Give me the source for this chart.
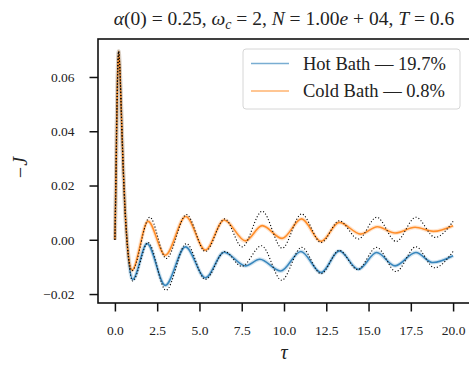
<!DOCTYPE html>
<html>
<head>
<meta charset="utf-8">
<script src="https://cdn.jsdelivr.net/npm/d3@7"></script>
<style>
  body { margin: 0; background: #fff; }
  text { font-family: 'Liberation Serif', 'DejaVu Serif', serif; fill: #222; }
</style>
</head>
<body>
<div id="chart"></div>
<script>
// values (tau, -J)
const hotTau = [0, 0.05, 0.1, 0.15, 0.22, 0.3, 0.4, 0.5, 0.6, 0.7, 0.8, 1.05, 1.9, 2.98, 4.17, 5.35, 6.46, 7.72, 8.57, 9.8, 11.0, 12.19, 13.27, 14.4, 15.48, 16.57, 17.8, 18.8, 20.0]
const hotJ = [0, 0.018, 0.04, 0.058, 0.0695, 0.062, 0.043, 0.025, 0.011, 0.001, -0.0065, -0.0146, -0.0014, -0.0168, -0.0026, -0.014, -0.0046, -0.0096, -0.0072, -0.0115, -0.0043, -0.0121, -0.0041, -0.0109, -0.0047, -0.0096, -0.0047, -0.0084, -0.0059]

const coldTau = [0, 0.05, 0.1, 0.15, 0.22, 0.3, 0.4, 0.5, 0.6, 0.7, 0.8, 1.01, 1.96, 2.98, 4.19, 5.35, 6.46, 7.72, 8.71, 9.89, 11.04, 12.19, 13.27, 14.54, 15.52, 16.57, 17.75, 18.84, 20.0]
const coldJ = [0, 0.018, 0.04, 0.058, 0.0695, 0.062, 0.043, 0.025, 0.011, 0.001, -0.006, -0.0112, 0.0068, -0.0057, 0.0086, -0.0038, 0.0073, -0.0004, 0.0052, 0.0005, 0.0077, -0.0006, 0.0064, 0.0021, 0.0048, 0.0025, 0.0046, 0.0031, 0.0052]

// dotted reference curves
const hotRefTau = [0, 0.05, 0.1, 0.15, 0.22, 0.3, 0.4, 0.5, 0.6, 0.7, 0.8, 1.05, 1.96, 3.02, 4.23, 5.35, 6.5, 7.5, 8.67, 9.86, 11.04, 12.19, 13.27, 14.35, 15.48, 16.63, 17.8, 18.9, 20.0]
const hotRefJ = [0, 0.018, 0.04, 0.058, 0.0695, 0.062, 0.043, 0.025, 0.011, 0.001, -0.0067, -0.0152, -0.001, -0.0186, -0.0014, -0.0146, -0.0043, -0.0098, -0.0022, -0.0149, -0.0028, -0.0125, -0.0039, -0.011, -0.0028, -0.0117, -0.0026, -0.0103, -0.0043]

const coldRefTau = [0, 0.05, 0.1, 0.15, 0.22, 0.3, 0.4, 0.5, 0.6, 0.7, 0.8, 1.01, 2.06, 3.04, 4.23, 5.35, 6.5, 7.52, 8.71, 9.89, 11.04, 12.2, 13.27, 14.4, 15.48, 16.63, 17.8, 18.94, 20.0]
const coldRefJ = [0, 0.018, 0.04, 0.058, 0.0695, 0.062, 0.043, 0.025, 0.011, 0.001, -0.006, -0.0114, 0.0083, -0.0069, 0.0093, -0.0043, 0.0077, -0.0026, 0.0105, -0.0031, 0.0095, -0.001, 0.007, 0.0003, 0.0083, -0.0006, 0.0083, 0.0009, 0.0068]

const xTicks = [0, 2.5, 5, 7.5, 10, 12.5, 15, 17.5, 20]
const yTicks = [-0.02, 0, 0.02, 0.04, 0.06]
const legendLabels = ['Hot Bath — 19.7%', 'Cold Bath — 0.8%']

const width = 469
const height = 365
const margin = { top: 39, left: 98, right: -1, bottom: 62 }

const svg = d3
  .select('#chart')
  .append('svg')
  .attr('width', width)
  .attr('height', height)

const x = d3
  .scaleLinear()
  .domain([-1, 21])
  .range([margin.left, width - margin.right])

const y = d3
  .scaleLinear()
  .domain([-0.0233, 0.074])
  .range([height - margin.bottom, margin.top])

svg
  .append('clipPath')
  .attr('id', 'plot-clip')
  .append('rect')
  .attr('x', x.range()[0])
  .attr('y', y.range()[1])
  .attr('width', x.range()[1] - x.range()[0])
  .attr('height', y.range()[0] - y.range()[1])

const line = d3
  .line()
  .x(d => x(d[0]))
  .y(d => y(d[1]))
  .curve(d3.curveMonotoneX)

const plot = svg.append('g').attr('clip-path', 'url(#plot-clip)')

const series = [
  { tau: hotTau, j: hotJ, color: '#1f77b4' },
  { tau: coldTau, j: coldJ, color: '#ff7f0e' }
]
const refs = [
  { tau: hotRefTau, j: hotRefJ },
  { tau: coldRefTau, j: coldRefJ }
]

// light band under each coloured line
series.forEach(s => {
  const pts = d3.zip(s.tau, s.j)
  plot
    .append('path')
    .attr('d', line(pts))
    .attr('fill', 'none')
    .attr('stroke', s.color)
    .attr('stroke-opacity', 0.2)
    .attr('stroke-width', 4)
  plot
    .append('path')
    .attr('d', line(pts))
    .attr('fill', 'none')
    .attr('stroke', s.color)
    .attr('stroke-opacity', 0.85)
    .attr('stroke-width', 1.6)
})

refs.forEach(r => {
  plot
    .append('path')
    .attr('d', line(d3.zip(r.tau, r.j)))
    .attr('fill', 'none')
    .attr('stroke', '#000')
    .attr('stroke-width', 1.1)
    .attr('stroke-dasharray', '1.1,2')
})

// axes
const xAxis = svg
  .append('g')
  .attr('transform', 'translate(0,' + y.range()[0] + ')')
  .call(
    d3
      .axisBottom(x)
      .tickValues(xTicks)
      .tickFormat(d3.format('.1f'))
      .tickSize(8.5)
      .tickPadding(14)
  )

const yAxis = svg
  .append('g')
  .attr('transform', 'translate(' + x.range()[0] + ',0)')
  .call(
    d3
      .axisLeft(y)
      .tickValues(yTicks)
      .tickFormat(d => (d < 0 ? '−' : '') + d3.format('.2f')(Math.abs(d)))
      .tickSize(8.5)
      .tickPadding(15)
  )

;[xAxis, yAxis].forEach(a => {
  a.select('.domain').remove()
  a.selectAll('.tick line').attr('stroke', '#111').attr('stroke-width', 1.5)
  a.selectAll('.tick text')
    .attr('font-family', "'Liberation Serif', serif")
    .attr('font-size', 13.5)
    .attr('fill', '#222')
})

// spines
svg
  .append('rect')
  .attr('x', x.range()[0])
  .attr('y', y.range()[1])
  .attr('width', x.range()[1] - x.range()[0])
  .attr('height', y.range()[0] - y.range()[1])
  .attr('fill', 'none')
  .attr('stroke', '#111')
  .attr('stroke-width', 1.6)

// legend
const legend = svg.append('g').attr('transform', 'translate(243,49)')
legend
  .append('rect')
  .attr('width', 217)
  .attr('height', 60)
  .attr('rx', 3)
  .attr('fill', '#fff')
  .attr('fill-opacity', 0.8)
  .attr('stroke', '#d6d6d6')
  .attr('stroke-width', 1)

legendLabels.forEach((label, i) => {
  const ly = 14.5 + i * 27.5
  legend
    .append('line')
    .attr('x1', 8)
    .attr('x2', 46)
    .attr('y1', ly)
    .attr('y2', ly)
    .attr('stroke', series[i].color)
    .attr('stroke-opacity', 0.6)
    .attr('stroke-width', 1.6)
  legend
    .append('text')
    .attr('x', 60)
    .attr('y', ly + 6)
    .attr('font-size', 18.5)
    .text(label)
})

// title
const title = svg
  .append('text')
  .attr('x', 284)
  .attr('y', 25)
  .attr('text-anchor', 'middle')
  .attr('font-size', 19.5)

const parts = [
  ['α', true], ['(0) = 0.25, ', false], ['ω', true], ['c', true, 'sub'],
  [' = 2, ', false], ['N', true], [' = 1.00', false], ['e', true],
  [' + 04, ', false], ['T', true], [' = 0.6', false]
]
parts.forEach((p, i) => {
  const ts = title.append('tspan').text(p[0])
  if (p[1]) ts.attr('font-style', 'italic')
  if (p[2] === 'sub') ts.attr('font-size', 14).attr('dy', 4)
  else if (i > 0 && parts[i - 1][2] === 'sub') ts.attr('dy', -4)
})

// axis labels
svg
  .append('text')
  .attr('x', 284)
  .attr('y', 359)
  .attr('text-anchor', 'middle')
  .attr('font-size', 20)
  .attr('font-style', 'italic')
  .text('τ')

svg
  .append('text')
  .attr('transform', 'translate(27,168) rotate(-90)')
  .attr('text-anchor', 'middle')
  .attr('font-size', 20)
  .attr('font-style', 'italic')
  .text('−J')
</script>
</body>
</html>
